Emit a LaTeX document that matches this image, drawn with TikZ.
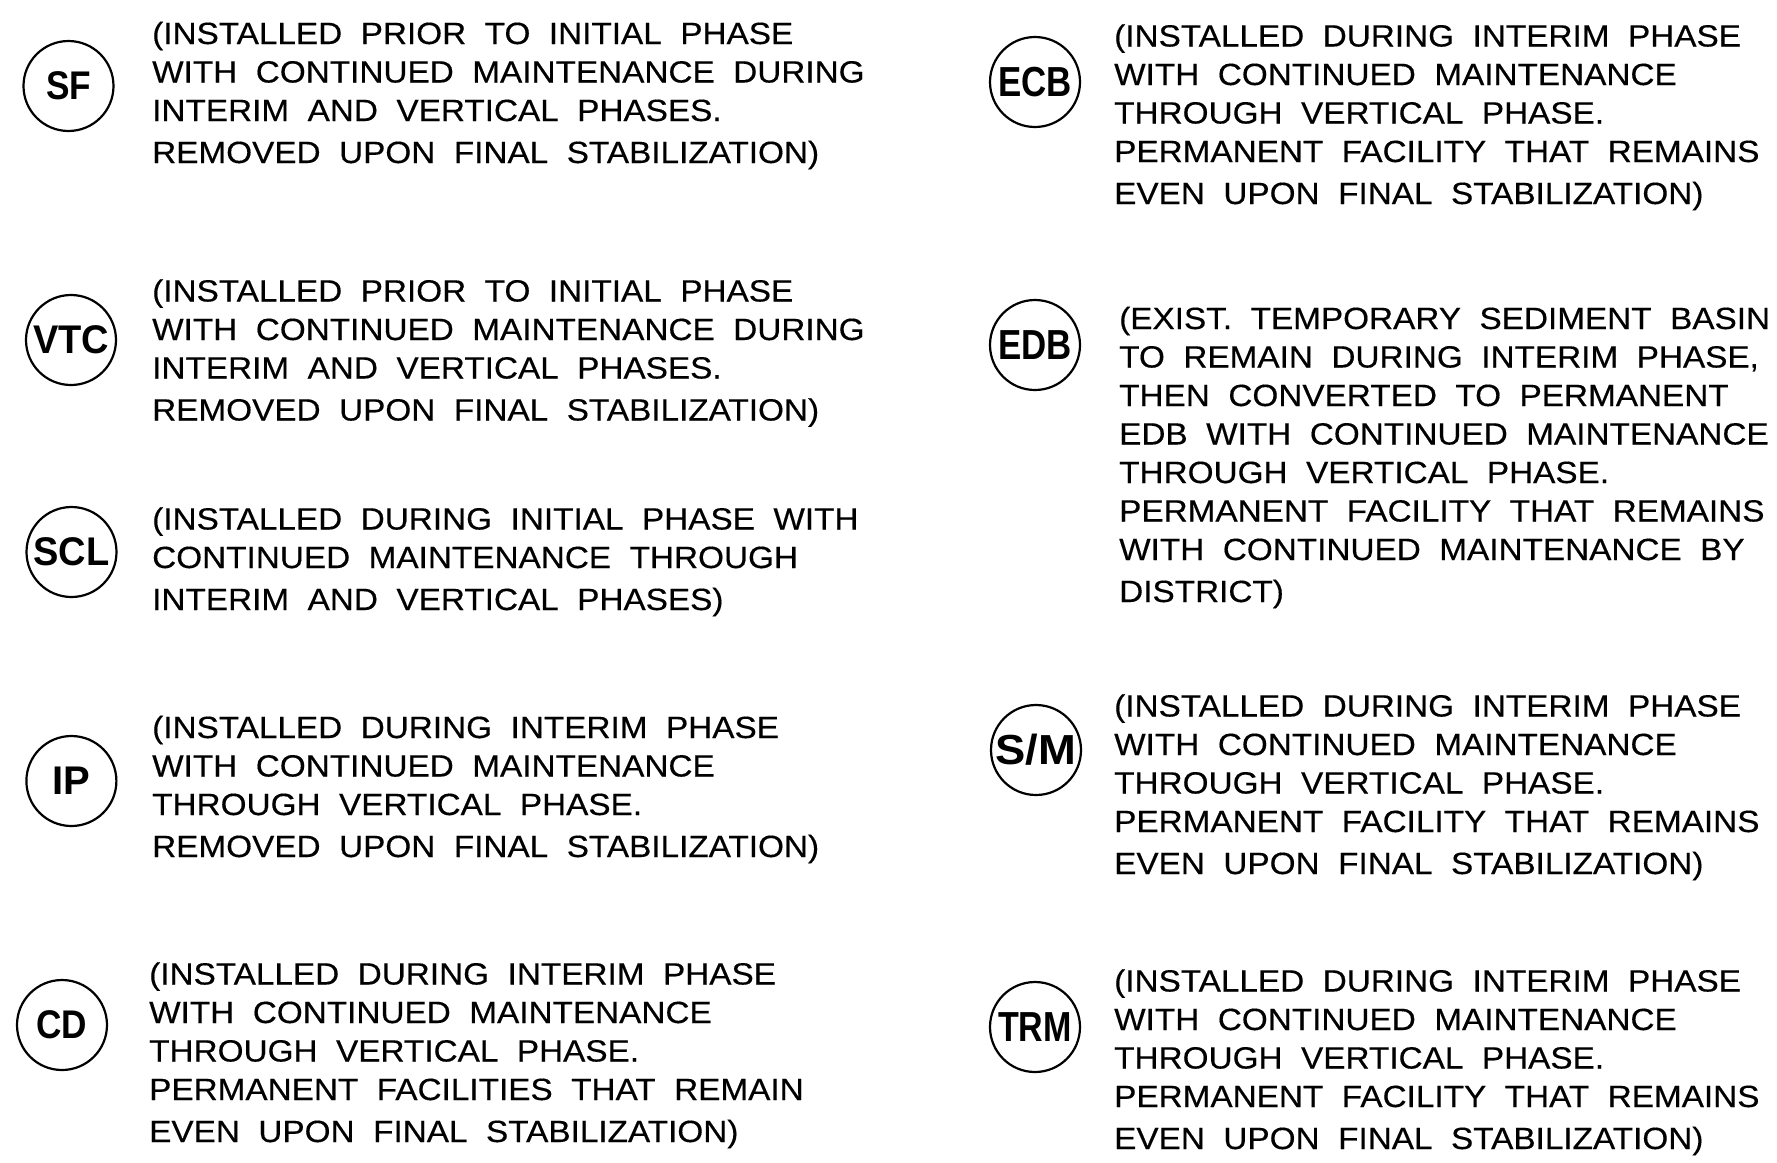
\documentclass[tikz,border=0pt]{standalone}
\usepackage{fontspec}
\setmainfont{Liberation Sans}
\newfontfamily\cadfont[FakeStretch=1.085,WordSpace=2,FakeBold=0.4]{Liberation Sans}
\newfontfamily\lblfont{Liberation Sans}
\newcommand\lbl[2]{\scalebox{#1}[1]{#2}}
\begin{document}
\begin{tikzpicture}[x=1pt,y=-1pt,
  tag/.style={circle, draw, line width=2.2pt, minimum size=90pt, inner sep=0pt,
    font=\lblfont\bfseries\fontsize{40}{40}\selectfont},
  tagr/.style={tag, font=\lblfont\bfseries\fontsize{42}{42}\selectfont},
  note/.style={anchor=base west, inner sep=0pt, align=left,
    font=\cadfont\fontsize{30.7}{38.5}\selectfont}]
\useasboundingbox (0,0) rectangle (1777,1162);

% left column
\node[tag] (sf) at (68.5,86) {\lbl{0.88}{SF}};
\node[note] (sft) at (152,163) {(INSTALLED PRIOR TO INITIAL PHASE\\WITH CONTINUED MAINTENANCE DURING\\INTERIM AND VERTICAL PHASES.\\[3.5pt]REMOVED UPON FINAL STABILIZATION)};

\node[tag] (vtc) at (71,340) {\lbl{0.95}{VTC}};
\node[note] (vtct) at (152,420.5) {(INSTALLED PRIOR TO INITIAL PHASE\\WITH CONTINUED MAINTENANCE DURING\\INTERIM AND VERTICAL PHASES.\\[3.5pt]REMOVED UPON FINAL STABILIZATION)};

\node[tag] (scl) at (71.5,552) {\lbl{0.95}{SCL}};
\node[note] (sclt) at (152,610) {(INSTALLED DURING INITIAL PHASE WITH\\CONTINUED MAINTENANCE THROUGH\\[3.5pt]INTERIM AND VERTICAL PHASES)};

\node[tag] (ip) at (71.4,781) {IP};
\node[note] (ipt) at (152,857) {(INSTALLED DURING INTERIM PHASE\\WITH CONTINUED MAINTENANCE\\THROUGH VERTICAL PHASE.\\[3.5pt]REMOVED UPON FINAL STABILIZATION)};

\node[tag] (cd) at (62,1025) {\lbl{0.88}{CD}};
\node[note] (cdt) at (149,1142) {(INSTALLED DURING INTERIM PHASE\\WITH CONTINUED MAINTENANCE\\THROUGH VERTICAL PHASE.\\PERMANENT FACILITIES THAT REMAIN\\[3.5pt]EVEN UPON FINAL STABILIZATION)};

% right column
\node[tagr] (ecb) at (1035,82) {\lbl{0.83}{ECB}};
\node[note] (ecbt) at (1114,204) {(INSTALLED DURING INTERIM PHASE\\WITH CONTINUED MAINTENANCE\\THROUGH VERTICAL PHASE.\\PERMANENT FACILITY THAT REMAINS\\[3.5pt]EVEN UPON FINAL STABILIZATION)};

\node[tagr] (edb) at (1035,345) {\lbl{0.83}{EDB}};
\node[note] (edbt) at (1119,602) {(EXIST. TEMPORARY SEDIMENT BASIN\\TO REMAIN DURING INTERIM PHASE,\\THEN CONVERTED TO PERMANENT\\EDB WITH CONTINUED MAINTENANCE\\THROUGH VERTICAL PHASE.\\PERMANENT FACILITY THAT REMAINS\\WITH CONTINUED MAINTENANCE BY\\[3.5pt]DISTRICT)};

\node[tagr] (sm) at (1036,750) {\lbl{1.08}{S/M}};
\node[note] (smt) at (1114,874) {(INSTALLED DURING INTERIM PHASE\\WITH CONTINUED MAINTENANCE\\THROUGH VERTICAL PHASE.\\PERMANENT FACILITY THAT REMAINS\\[3.5pt]EVEN UPON FINAL STABILIZATION)};

\node[tagr] (trm) at (1035,1027) {\lbl{0.81}{TRM}};
\node[note] (trmt) at (1114,1149) {(INSTALLED DURING INTERIM PHASE\\WITH CONTINUED MAINTENANCE\\THROUGH VERTICAL PHASE.\\PERMANENT FACILITY THAT REMAINS\\[3.5pt]EVEN UPON FINAL STABILIZATION)};
\end{tikzpicture}
\end{document}
